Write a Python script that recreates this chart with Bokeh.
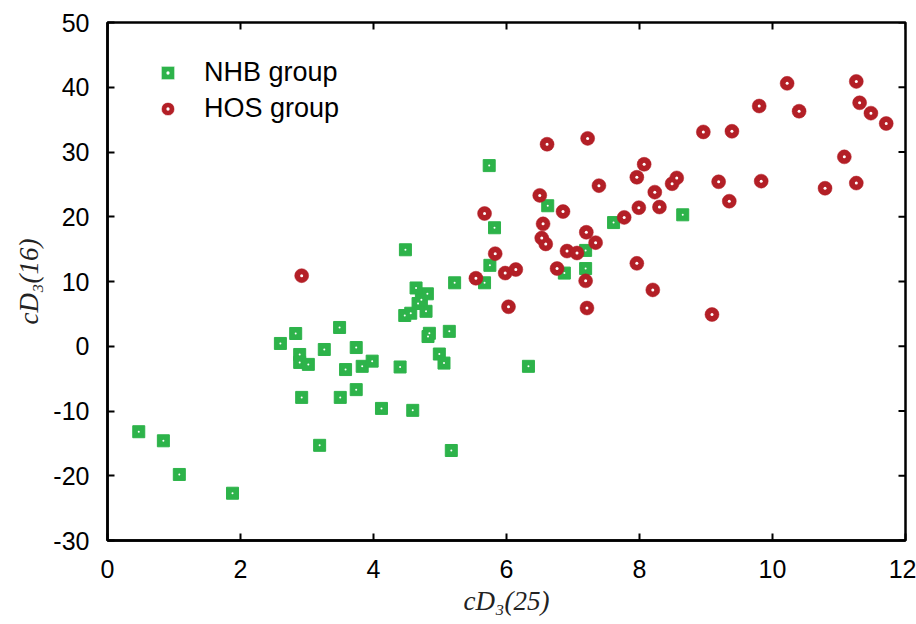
import math
from bokeh.plotting import figure
from bokeh.models import LinearAxis, FixedTicker, Legend, LegendItem, ColumnDataSource
from bokeh.embed import file_html
from bokeh.resources import INLINE

# NHB group (green squares)
nhb_x = [0.47, 0.84, 1.08, 1.88, 2.60, 2.83, 2.89, 2.89, 3.02, 3.26, 3.49, 3.74, 3.58, 3.83,
         3.98, 2.92, 3.50, 3.74, 3.19, 4.12, 4.59, 5.17, 4.40, 4.99, 5.06, 4.84, 4.82, 5.14,
         4.47, 4.56, 4.79, 4.67, 4.72, 4.81, 4.64, 5.22, 5.67, 4.48, 5.75, 5.82, 5.74, 6.62,
         6.87, 7.19, 7.19, 7.61, 8.65, 6.33]
nhb_y = [-13.2, -14.6, -19.8, -22.7, 0.43, 1.97, -1.27, -2.5, -2.8, -0.5, 2.9, -0.2, -3.6, -3.1,
         -2.3, -7.9, -7.9, -6.7, -15.3, -9.6, -9.9, -16.1, -3.2, -1.2, -2.6, 2.0, 1.5, 2.3,
         4.75, 5.1, 5.4, 6.6, 7.2, 8.1, 9.0, 9.8, 9.8, 14.9, 12.5, 18.3, 27.9, 21.7,
         11.3, 12.0, 14.8, 19.1, 20.3, -3.1]

# HOS group (red circles)
hos_x = [2.92, 5.54, 5.67, 5.83, 5.98, 6.03, 6.14, 6.50, 6.53, 6.55, 6.59, 6.61, 6.76, 6.85,
         6.91, 7.06, 7.19, 7.20, 7.21, 7.22, 7.34, 7.39, 7.77, 7.96, 7.96, 7.99, 8.07, 8.20,
         8.23, 8.30, 8.49, 8.56, 8.96, 9.09, 9.19, 9.35, 9.39, 9.80, 9.83, 10.22, 10.40, 10.79,
         11.08, 11.26, 11.26, 11.31, 11.48, 11.71]
hos_y = [10.9, 10.5, 20.5, 14.3, 11.3, 6.1, 11.85, 23.3, 16.7, 18.9, 15.8, 31.2, 12.0, 20.8,
         14.7, 14.4, 10.1, 17.6, 5.9, 32.1, 16.0, 24.8, 19.9, 26.1, 12.8, 21.4, 28.1, 8.7,
         23.8, 21.5, 25.1, 26.0, 33.1, 4.9, 25.4, 22.4, 33.2, 37.1, 25.5, 40.6, 36.3, 24.4,
         29.25, 40.9, 25.2, 37.6, 36.0, 34.4]

x_ticks = [0, 2, 4, 6, 8, 10, 12]
y_ticks = [-30, -20, -10, 0, 10, 20, 30, 40, 50]
x_min, x_max = 0, 12
y_min, y_max = -30, 50

GREEN = "#2db34a"
RED = "#b31f26"
TICK_FONT = "Liberation Sans"
LABEL_FONT = "Liberation Serif"

p = figure(width=916, height=624, x_range=(x_min, x_max), y_range=(y_min, y_max),
           output_backend="svg", toolbar_location=None,
           min_border_left=107, min_border_right=11, min_border_top=22, min_border_bottom=84)
p.xaxis.visible = False
p.yaxis.visible = False
p.xgrid.visible = False
p.ygrid.visible = False
p.outline_line_color = "black"
p.outline_line_width = 2.5
p.background_fill_color = "white"
p.border_fill_color = "white"


def style_axis(ax, ticks):
    ax.ticker = FixedTicker(ticks=ticks)
    ax.major_label_overrides = {t: str(t) for t in ticks}
    ax.major_tick_in = 7
    ax.major_tick_out = 0
    ax.minor_tick_line_color = None
    ax.major_tick_line_width = 2
    ax.axis_line_width = 2.5
    ax.axis_line_color = "black"
    ax.major_label_text_font = TICK_FONT
    ax.major_label_text_color = "black"
    ax.major_label_text_font_size = "25px"


xb = LinearAxis(axis_label="cD₃(25)")
style_axis(xb, x_ticks)
xb.major_label_standoff = 19
xb.axis_label_standoff = 5
xb.axis_label_text_font = LABEL_FONT
xb.axis_label_text_font_style = "italic"
xb.axis_label_text_font_size = "27px"
xb.axis_label_text_color = "#222222"
p.add_layout(xb, "below")

yl = LinearAxis(axis_label="cD₃(16)")
style_axis(yl, y_ticks)
yl.major_label_standoff = 18
yl.axis_label_standoff = 6
yl.axis_label_text_font = LABEL_FONT
yl.axis_label_text_font_style = "italic"
yl.axis_label_text_font_size = "27px"
yl.axis_label_text_color = "#222222"
p.add_layout(yl, "left")

# inward ticks on the top and right edges (line markers, clipped to the frame)
p.scatter(x=x_ticks, y=[y_max] * len(x_ticks), marker="dash", size=14, angle=math.pi / 2,
          line_color="black", line_width=2)
p.scatter(x=[x_max] * len(y_ticks), y=y_ticks, marker="dash", size=14,
          line_color="black", line_width=2)

src_n = ColumnDataSource(dict(x=nhb_x, y=nhb_y))
src_h = ColumnDataSource(dict(x=hos_x, y=hos_y))

p.scatter("x", "y", source=src_n, marker="square", size=12,
          fill_color=GREEN, line_color=GREEN, line_width=1, line_join="round")
p.scatter("x", "y", source=src_n, marker="circle", size=2,
          fill_color="white", line_color=None)
p.scatter("x", "y", source=src_h, marker="circle", size=14,
          fill_color=RED, line_color=RED, line_width=0.5)
p.scatter("x", "y", source=src_h, marker="circle", size=3,
          fill_color="white", line_color=None)

# legend-only renderers (marker with a white centre dot), not drawn on the plot
ln = p.scatter("x", "y", source=src_n, marker="square_dot", size=12,
               fill_color=GREEN, line_color="white", line_width=0.5, visible=False)
lh = p.scatter("x", "y", source=src_h, marker="circle_dot", size=14,
               fill_color=RED, line_color="white", line_width=0.5, visible=False)

legend = Legend(items=[LegendItem(label="NHB group", renderers=[ln]),
                       LegendItem(label="HOS group", renderers=[lh])],
                location=(44, 414))
legend.border_line_color = None
legend.background_fill_alpha = 0
legend.padding = 0
legend.margin = 0
legend.spacing = 0
legend.glyph_width = 33
legend.glyph_height = 33
legend.label_height = 36
legend.label_standoff = 20
legend.label_text_font = TICK_FONT
legend.label_text_font_size = "27px"
legend.label_text_color = "black"
p.add_layout(legend, "center")

open("out.html", "w").write(file_html(p, INLINE))
